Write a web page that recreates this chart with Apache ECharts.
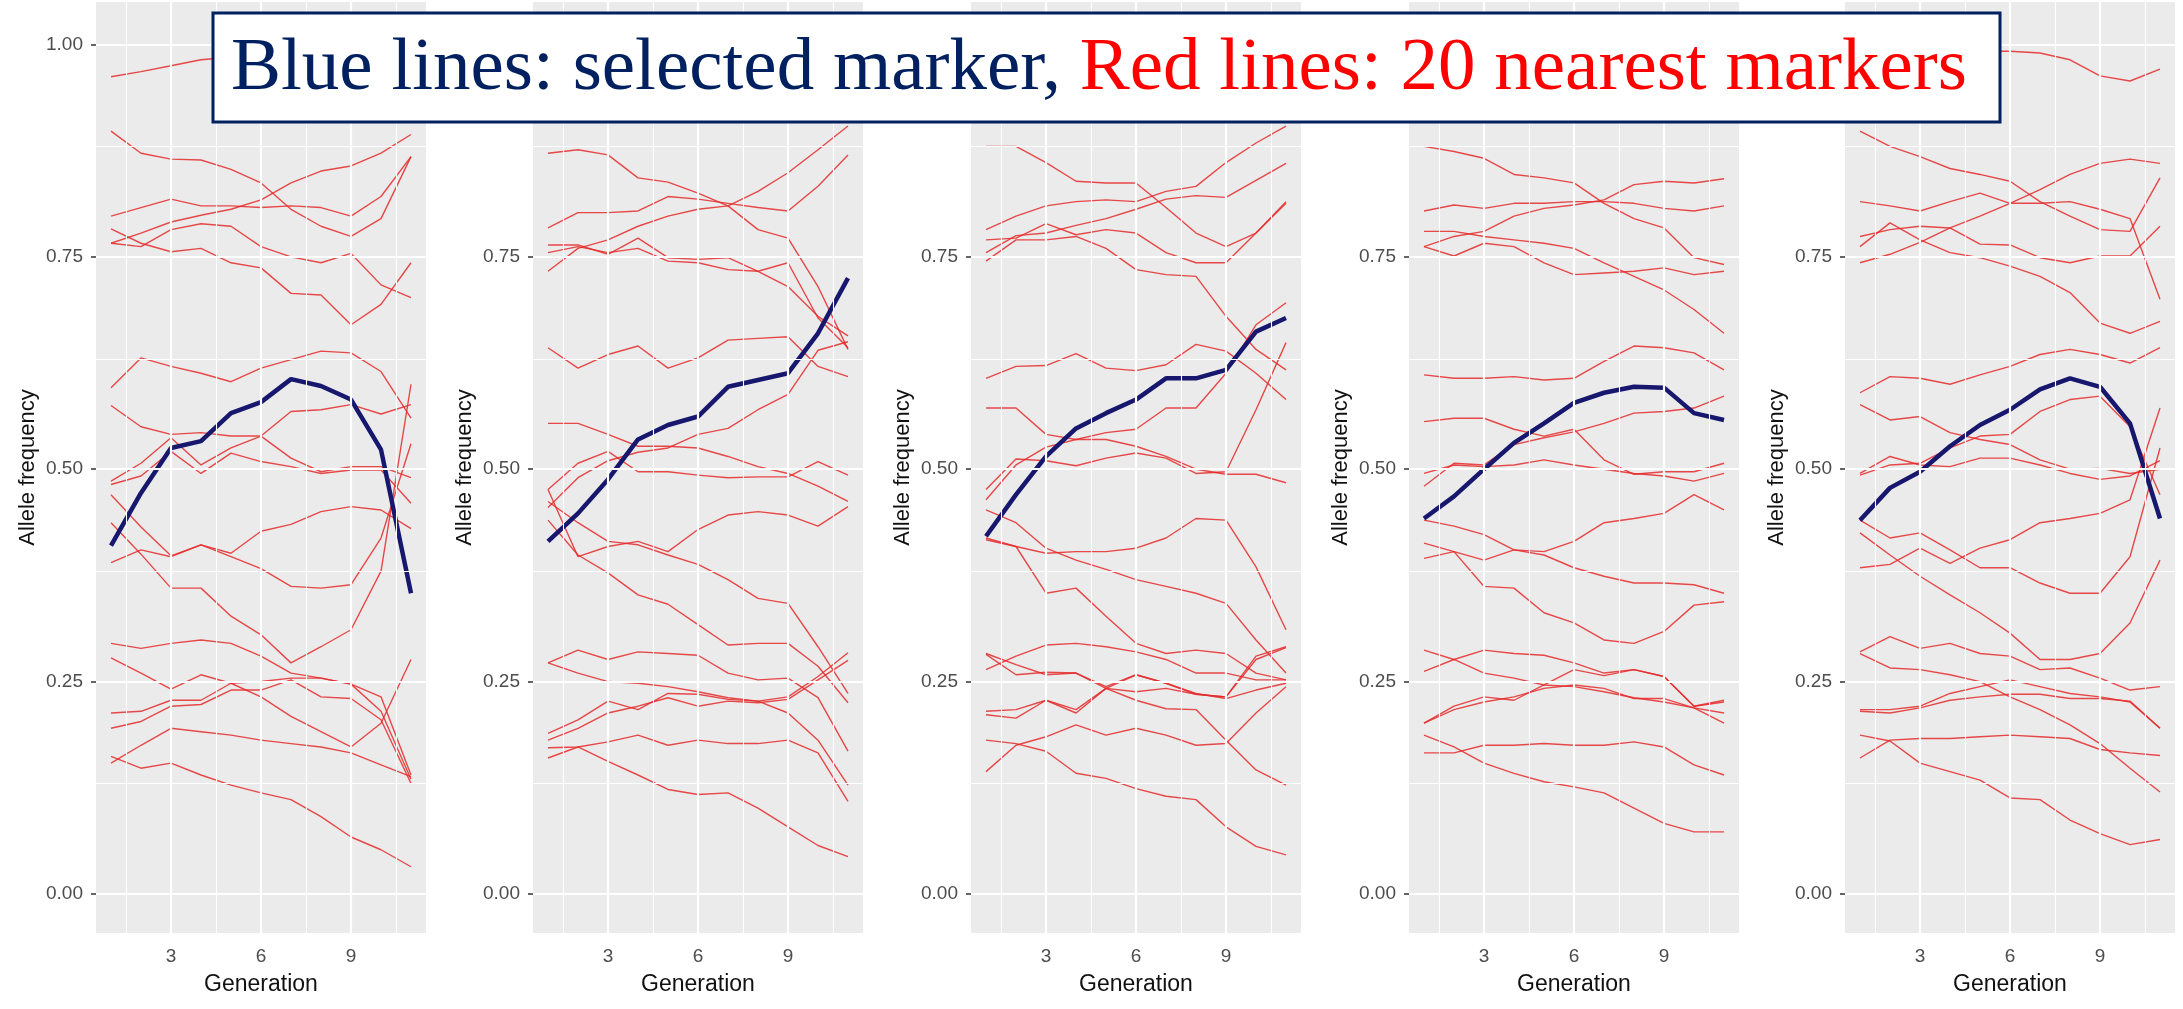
<!DOCTYPE html>
<html><head><meta charset="utf-8">
<script src="https://cdn.jsdelivr.net/npm/echarts@6/dist/echarts.min.js"></script>
<style>html,body{margin:0;padding:0;background:#fff}#c{width:2183px;height:1009px}</style>
</head><body><div id="c"></div>
<script>
// ---------- data ----------
const generations = [1,2,3,4,5,6,7,8,9,10,11];
const xTickValues = [3,6,9];
const yTickValues = [0,0.25,0.5,0.75,1];
const yTickLabels = ['0.00','0.25','0.50','0.75','1.00'];
const xMinorGrid = [1.5,4.5,7.5,10.5];
const yMinorGrid = [0.125,0.375,0.625,0.875];
const titleBlue = 'Blue lines: selected marker, ';
const titleRed = 'Red lines: 20 nearest markers';
const yTitle = 'Allele frequency';
const xTitle = 'Generation';

const p1Blue = [0.410,0.472,0.525,0.533,0.566,0.579,0.606,0.598,0.582,0.523,0.354];
const p1Red = [
 [0.962,0.968,0.975,0.982,0.985,0.990,0.990,0.985,0.980,0.975,0.970],
 [0.898,0.872,0.865,0.864,0.853,0.837,0.806,0.786,0.774,0.795,0.868],
 [0.798,0.808,0.818,0.810,0.810,0.808,0.810,0.808,0.798,0.821,0.868],
 [0.766,0.778,0.791,0.799,0.806,0.817,0.837,0.851,0.857,0.872,0.894],
 [0.783,0.766,0.756,0.760,0.743,0.737,0.707,0.705,0.670,0.694,0.743],
 [0.766,0.762,0.782,0.789,0.786,0.762,0.750,0.743,0.754,0.717,0.702],
 [0.596,0.631,0.621,0.613,0.603,0.619,0.629,0.639,0.637,0.615,0.560],
 [0.575,0.550,0.541,0.543,0.539,0.539,0.513,0.497,0.503,0.503,0.490],
 [0.482,0.492,0.521,0.495,0.519,0.509,0.503,0.495,0.499,0.499,0.460],
 [0.486,0.507,0.537,0.505,0.525,0.539,0.568,0.570,0.576,0.565,0.576],
 [0.470,0.432,0.398,0.411,0.401,0.427,0.435,0.450,0.456,0.452,0.430],
 [0.437,0.400,0.360,0.360,0.327,0.305,0.272,0.291,0.311,0.380,0.600],
 [0.390,0.405,0.397,0.411,0.397,0.383,0.362,0.360,0.364,0.419,0.530],
 [0.295,0.289,0.295,0.299,0.295,0.280,0.260,0.254,0.247,0.215,0.135],
 [0.278,0.260,0.241,0.258,0.248,0.232,0.209,0.191,0.173,0.201,0.276],
 [0.213,0.215,0.228,0.228,0.248,0.250,0.254,0.254,0.247,0.232,0.140],
 [0.195,0.203,0.221,0.223,0.240,0.240,0.252,0.232,0.230,0.205,0.130],
 [0.154,0.175,0.195,0.191,0.187,0.181,0.177,0.173,0.166,0.152,0.138],
 [0.162,0.148,0.154,0.140,0.128,0.119,0.111,0.091,0.067,0.052,0.032]
];

const p2Blue = [0.415,0.448,0.488,0.535,0.552,0.562,0.597,0.605,0.613,0.660,0.725];
const p2Red = [
 [0.872,0.876,0.870,0.843,0.838,0.825,0.810,0.782,0.772,0.715,0.641],
 [0.784,0.802,0.802,0.804,0.821,0.818,0.813,0.808,0.804,0.833,0.870],
 [0.733,0.760,0.770,0.786,0.798,0.806,0.810,0.827,0.849,0.876,0.904],
 [0.764,0.764,0.753,0.772,0.749,0.747,0.749,0.733,0.715,0.680,0.657],
 [0.755,0.762,0.755,0.760,0.745,0.743,0.735,0.733,0.743,0.678,0.643],
 [0.643,0.619,0.635,0.645,0.619,0.631,0.652,0.654,0.656,0.621,0.609],
 [0.554,0.554,0.541,0.527,0.527,0.525,0.515,0.503,0.495,0.480,0.462],
 [0.476,0.507,0.521,0.497,0.497,0.493,0.490,0.491,0.491,0.509,0.493],
 [0.455,0.490,0.510,0.520,0.525,0.541,0.548,0.570,0.588,0.640,0.650],
 [0.462,0.437,0.415,0.411,0.399,0.388,0.370,0.348,0.342,0.291,0.236],
 [0.440,0.399,0.378,0.352,0.341,0.317,0.293,0.295,0.295,0.268,0.225],
 [0.272,0.287,0.276,0.285,0.283,0.281,0.260,0.252,0.254,0.231,0.168],
 [0.272,0.260,0.250,0.248,0.244,0.238,0.231,0.227,0.213,0.181,0.128],
 [0.189,0.205,0.227,0.217,0.236,0.235,0.229,0.227,0.232,0.256,0.284],
 [0.181,0.195,0.213,0.221,0.231,0.221,0.227,0.225,0.229,0.252,0.275],
 [0.172,0.173,0.179,0.187,0.175,0.181,0.177,0.177,0.181,0.166,0.109],
 [0.160,0.173,0.156,0.140,0.123,0.117,0.119,0.101,0.079,0.057,0.044],
 [0.476,0.397,0.409,0.415,0.403,0.429,0.446,0.450,0.446,0.433,0.456]
];

const p3Blue = [0.421,0.470,0.515,0.548,0.566,0.582,0.607,0.607,0.617,0.662,0.678];
const p3Red = [
 [0.880,0.880,0.861,0.839,0.837,0.837,0.808,0.778,0.762,0.778,0.813],
 [0.782,0.798,0.810,0.815,0.817,0.815,0.827,0.833,0.861,0.884,0.904],
 [0.770,0.772,0.789,0.776,0.782,0.778,0.755,0.743,0.743,0.778,0.815],
 [0.755,0.775,0.778,0.787,0.795,0.806,0.818,0.822,0.820,0.840,0.860],
 [0.745,0.770,0.770,0.774,0.760,0.735,0.729,0.727,0.680,0.641,0.617],
 [0.607,0.621,0.622,0.636,0.619,0.616,0.623,0.647,0.639,0.613,0.582],
 [0.572,0.572,0.541,0.535,0.535,0.527,0.515,0.500,0.494,0.494,0.484],
 [0.476,0.512,0.510,0.504,0.513,0.519,0.513,0.495,0.497,0.570,0.649],
 [0.464,0.505,0.526,0.535,0.543,0.547,0.572,0.572,0.613,0.670,0.696],
 [0.452,0.437,0.407,0.393,0.382,0.370,0.362,0.354,0.342,0.299,0.260],
 [0.419,0.409,0.401,0.403,0.403,0.407,0.419,0.442,0.440,0.385,0.311],
 [0.417,0.409,0.354,0.360,0.327,0.295,0.283,0.287,0.283,0.260,0.252],
 [0.283,0.270,0.258,0.260,0.244,0.258,0.248,0.235,0.232,0.280,0.291],
 [0.264,0.280,0.293,0.295,0.291,0.285,0.276,0.260,0.260,0.252,0.252],
 [0.215,0.217,0.228,0.217,0.242,0.238,0.242,0.235,0.232,0.276,0.290],
 [0.211,0.207,0.228,0.213,0.242,0.258,0.248,0.236,0.230,0.240,0.248],
 [0.181,0.177,0.168,0.142,0.136,0.124,0.115,0.111,0.079,0.056,0.046],
 [0.144,0.175,0.185,0.199,0.187,0.195,0.187,0.175,0.177,0.213,0.244],
 [0.282,0.258,0.261,0.260,0.242,0.228,0.218,0.217,0.181,0.146,0.128]
];

const p4Blue = [0.442,0.468,0.500,0.531,0.554,0.578,0.590,0.597,0.596,0.566,0.558];
const p4Red = [
 [0.880,0.874,0.866,0.847,0.843,0.837,0.813,0.795,0.784,0.749,0.741],
 [0.804,0.811,0.807,0.813,0.813,0.815,0.815,0.813,0.807,0.804,0.810],
 [0.762,0.774,0.780,0.798,0.807,0.811,0.817,0.835,0.839,0.837,0.842],
 [0.780,0.780,0.774,0.770,0.766,0.760,0.743,0.727,0.711,0.688,0.660],
 [0.762,0.751,0.766,0.762,0.743,0.729,0.731,0.733,0.737,0.729,0.733],
 [0.611,0.607,0.607,0.609,0.605,0.607,0.627,0.645,0.643,0.637,0.617],
 [0.556,0.560,0.560,0.547,0.539,0.547,0.511,0.494,0.497,0.497,0.507],
 [0.495,0.505,0.503,0.505,0.511,0.505,0.500,0.495,0.492,0.486,0.495],
 [0.480,0.507,0.505,0.529,0.537,0.544,0.554,0.566,0.568,0.572,0.586],
 [0.395,0.403,0.393,0.405,0.403,0.415,0.437,0.442,0.448,0.470,0.452],
 [0.440,0.433,0.423,0.405,0.399,0.384,0.374,0.366,0.366,0.364,0.354],
 [0.413,0.403,0.362,0.360,0.331,0.319,0.299,0.295,0.309,0.340,0.344],
 [0.287,0.276,0.287,0.283,0.281,0.272,0.260,0.264,0.256,0.221,0.226],
 [0.262,0.276,0.260,0.254,0.246,0.244,0.238,0.231,0.226,0.219,0.213],
 [0.201,0.221,0.232,0.228,0.246,0.264,0.257,0.264,0.256,0.221,0.228],
 [0.201,0.217,0.226,0.232,0.242,0.246,0.242,0.230,0.230,0.219,0.201],
 [0.166,0.166,0.175,0.175,0.177,0.175,0.175,0.179,0.173,0.152,0.140],
 [0.187,0.173,0.154,0.142,0.132,0.126,0.119,0.101,0.083,0.073,0.073]
];

const p5Blue = [0.440,0.478,0.497,0.527,0.552,0.570,0.594,0.607,0.597,0.554,0.442];
const p5Red = [
 [0.980,0.985,0.990,0.990,0.992,0.992,0.990,0.982,0.963,0.957,0.971],
 [0.898,0.880,0.868,0.854,0.847,0.839,0.815,0.798,0.782,0.780,0.843],
 [0.815,0.810,0.804,0.815,0.825,0.813,0.813,0.815,0.806,0.795,0.700],
 [0.774,0.782,0.786,0.784,0.765,0.764,0.749,0.743,0.751,0.751,0.786],
 [0.743,0.753,0.767,0.784,0.798,0.813,0.829,0.847,0.860,0.865,0.860],
 [0.762,0.790,0.770,0.755,0.749,0.739,0.727,0.708,0.672,0.660,0.674],
 [0.590,0.609,0.607,0.600,0.611,0.621,0.635,0.641,0.635,0.625,0.643],
 [0.576,0.558,0.562,0.543,0.535,0.529,0.511,0.500,0.501,0.495,0.500],
 [0.495,0.515,0.505,0.503,0.513,0.513,0.505,0.495,0.488,0.492,0.510],
 [0.493,0.505,0.507,0.525,0.539,0.541,0.568,0.582,0.586,0.550,0.470],
 [0.425,0.399,0.374,0.352,0.331,0.307,0.276,0.276,0.283,0.319,0.393],
 [0.440,0.419,0.425,0.405,0.384,0.384,0.366,0.354,0.354,0.397,0.525],
 [0.384,0.388,0.407,0.389,0.407,0.417,0.437,0.442,0.448,0.464,0.572],
 [0.285,0.303,0.289,0.295,0.283,0.280,0.264,0.266,0.254,0.240,0.244],
 [0.283,0.266,0.264,0.258,0.250,0.232,0.217,0.199,0.177,0.148,0.120],
 [0.217,0.217,0.221,0.236,0.244,0.252,0.244,0.236,0.232,0.226,0.195],
 [0.215,0.213,0.219,0.228,0.232,0.235,0.235,0.230,0.230,0.227,0.195],
 [0.160,0.181,0.183,0.183,0.185,0.187,0.185,0.183,0.170,0.166,0.163],
 [0.187,0.180,0.154,0.144,0.134,0.113,0.111,0.087,0.071,0.058,0.064]
];

const panelBlue = [p1Blue, p2Blue, p3Blue, p4Blue, p5Blue];
const panelRed = [p1Red, p2Red, p3Red, p4Red, p5Red];

// ---------- layout / style ----------
const gridLefts = [96, 533, 971, 1409, 1845];
const SANS = '"Liberation Sans", Arial, sans-serif';
const toPts = vals => generations.map((g, k) => [g, vals[k]]);

const grids = [], xAxes = [], yAxes = [], series = [];
gridLefts.forEach((left, i) => {
  grids.push({left: left, top: 2, width: 330, height: 931, show: true,
    backgroundColor: '#EBEBEB', borderWidth: 0});
  xAxes.push({gridIndex: i, type: 'value', min: 0.5, max: 11.5,
    splitLine: {show: false}, axisLine: {show: false},
    axisTick: {show: true, customValues: xTickValues, length: 6, lineStyle: {color: '#333', width: 1.5}},
    axisLabel: {customValues: xTickValues, color: '#4D4D4D', fontSize: 19, margin: 14, fontFamily: SANS},
    name: xTitle, nameLocation: 'middle', nameGap: 40,
    nameTextStyle: {fontSize: 23, color: '#111', fontFamily: SANS}});
  yAxes.push({gridIndex: i, type: 'value', min: -0.046, max: 1.05,
    splitLine: {show: false}, axisLine: {show: false},
    axisTick: {show: true, customValues: yTickValues, length: 5, lineStyle: {color: '#333', width: 1.5}},
    axisLabel: {customValues: yTickValues, color: '#4D4D4D', fontSize: 19, margin: 13, fontFamily: SANS,
      formatter: v => { const k = yTickValues.findIndex(t => Math.abs(t - v) < 1e-6); return k >= 0 ? yTickLabels[k] : v.toFixed(2); }},
    name: yTitle, nameLocation: 'middle', nameGap: 57, nameRotate: 90,
    nameTextStyle: {fontSize: 22, color: '#111', fontFamily: SANS}});

  const gl = [];
  yTickValues.forEach(v => gl.push({yAxis: v, lineStyle: {color: '#fff', width: 2.2, type: 'solid'}}));
  yMinorGrid.forEach(v => gl.push({yAxis: v, lineStyle: {color: '#fff', width: 1.1, type: 'solid'}}));
  xTickValues.forEach(v => gl.push({xAxis: v, lineStyle: {color: '#fff', width: 2.2, type: 'solid'}}));
  xMinorGrid.forEach(v => gl.push({xAxis: v, lineStyle: {color: '#fff', width: 1.1, type: 'solid'}}));
  series.push({type: 'line', xAxisIndex: i, yAxisIndex: i, data: [], z: 1, silent: true,
    markLine: {silent: true, symbol: 'none', animation: false, label: {show: false}, data: gl}});

  panelRed[i].forEach(vals => series.push({type: 'line', xAxisIndex: i, yAxisIndex: i,
    data: toPts(vals), symbol: 'none', silent: true, z: 3,
    lineStyle: {color: '#E52A2A', width: 1.4, opacity: 0.85}}));
  series.push({type: 'line', xAxisIndex: i, yAxisIndex: i, data: toPts(panelBlue[i]),
    symbol: 'none', silent: true, z: 4, lineStyle: {color: '#17176E', width: 4.5}});
});

const chart = echarts.init(document.getElementById('c'), null, {renderer: 'canvas'});
chart.setOption({
  animation: false,
  backgroundColor: '#fff',
  grid: grids, xAxis: xAxes, yAxis: yAxes, series: series,
  graphic: [
    {type: 'rect', z: 100, shape: {x: 213, y: 13, width: 1787, height: 109},
      style: {fill: '#fff', stroke: '#002060', lineWidth: 3}},
    {type: 'text', z: 101, x: 1099, y: 69,
      style: {text: '{b|' + titleBlue + '}{r|' + titleRed + '}',
        align: 'center', verticalAlign: 'middle',
        font: '75px "Liberation Serif", "Times New Roman", serif',
        rich: {
          b: {fill: '#002060', fontSize: 75, fontFamily: '"Liberation Serif", "Times New Roman", serif'},
          r: {fill: '#FF0000', fontSize: 75, fontFamily: '"Liberation Serif", "Times New Roman", serif'}
        }}}
  ]
});
</script>
</body></html>
